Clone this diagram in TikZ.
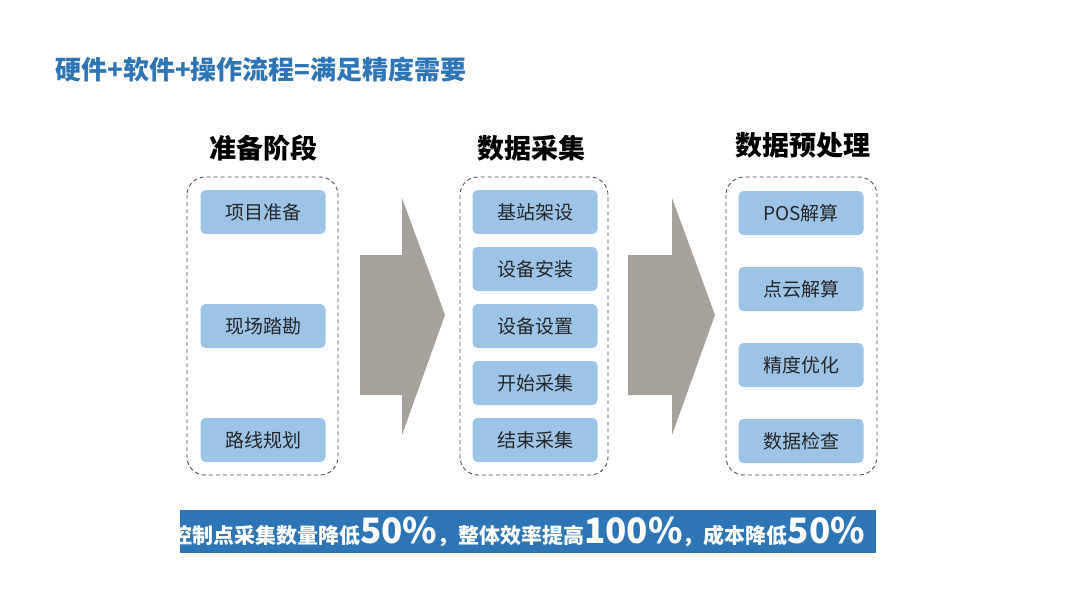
\documentclass[tikz,border=0pt]{standalone}
\usepackage{fontspec}
\setmainfont{Noto Sans CJK SC}
\definecolor{tblue}{HTML}{2E75B6}
\definecolor{lblue}{HTML}{9DC3E6}
\definecolor{agray}{HTML}{A6A19B}
\definecolor{dline}{HTML}{44546A}
\begin{document}
\begin{tikzpicture}[x=1pt,y=-1pt,
 item/.style={fill=lblue,rounded corners=5pt,minimum width=125pt,minimum height=44pt,inner sep=0pt,font=\fontsize{19}{19}\selectfont,text=black!85},
 grp/.style={draw=dline,dash pattern=on 4pt off 3pt,rounded corners=18pt,line width=0.9pt},
 head/.style={font=\fontsize{27}{27}\selectfont\bfseries},
 bigarrow/.style={fill=agray,draw=none}]
\useasboundingbox (0,0) rectangle (1080,608);
\fill[white] (0,0) rectangle (1080,608);
\node[anchor=west,text=tblue,font=\fontsize{26}{26}\selectfont\bfseries,inner sep=0pt] (title) at (55,70) {硬件+软件+操作流程=满足精度需要};
\node[head] (h1) at (263,148) {准备阶段};
\node[head] (h2) at (531,148) {数据采集};
\node[head] (h3) at (803,145) {数据预处理};
\draw[grp] (187,177) rectangle (338,475);
\draw[grp] (460,177) rectangle (608,475);
\draw[grp] (726,177) rectangle (877,475);
\node[item] (a1) at (263,212) {项目准备};
\node[item] (a2) at (263,326) {现场踏勘};
\node[item] (a3) at (263,440) {路线规划};
\node[item] (b1) at (535,212) {基站架设};
\node[item] (b2) at (535,269) {设备安装};
\node[item] (b3) at (535,326) {设备设置};
\node[item] (b4) at (535,383) {开始采集};
\node[item] (b5) at (535,440) {结束采集};
\node[item] (c1) at (801,213) {POS解算};
\node[item] (c2) at (801,289) {点云解算};
\node[item] (c3) at (801,365) {精度优化};
\node[item] (c4) at (801,441) {数据检查};
\fill[bigarrow] (360,255) -- (402,255) -- (402,198) -- (445,315) -- (402,435) -- (402,395) -- (360,395) -- cycle;
\fill[bigarrow] (628,255) -- (672,255) -- (672,198) -- (715,315) -- (672,435) -- (672,395) -- (628,395) -- cycle;
\fill[tblue] (180,510) rectangle (876,553);
\node[text=white,font=\fontsize{21}{21}\selectfont\bfseries,inner sep=0pt] (ban) at (518,532) {控制点采集数量降低{\fontsize{35}{35}\selectfont 50\%}，整体效率提高{\fontsize{35}{35}\selectfont 100\%}，成本降低{\fontsize{35}{35}\selectfont 50\%}};
\end{tikzpicture}
\end{document}
